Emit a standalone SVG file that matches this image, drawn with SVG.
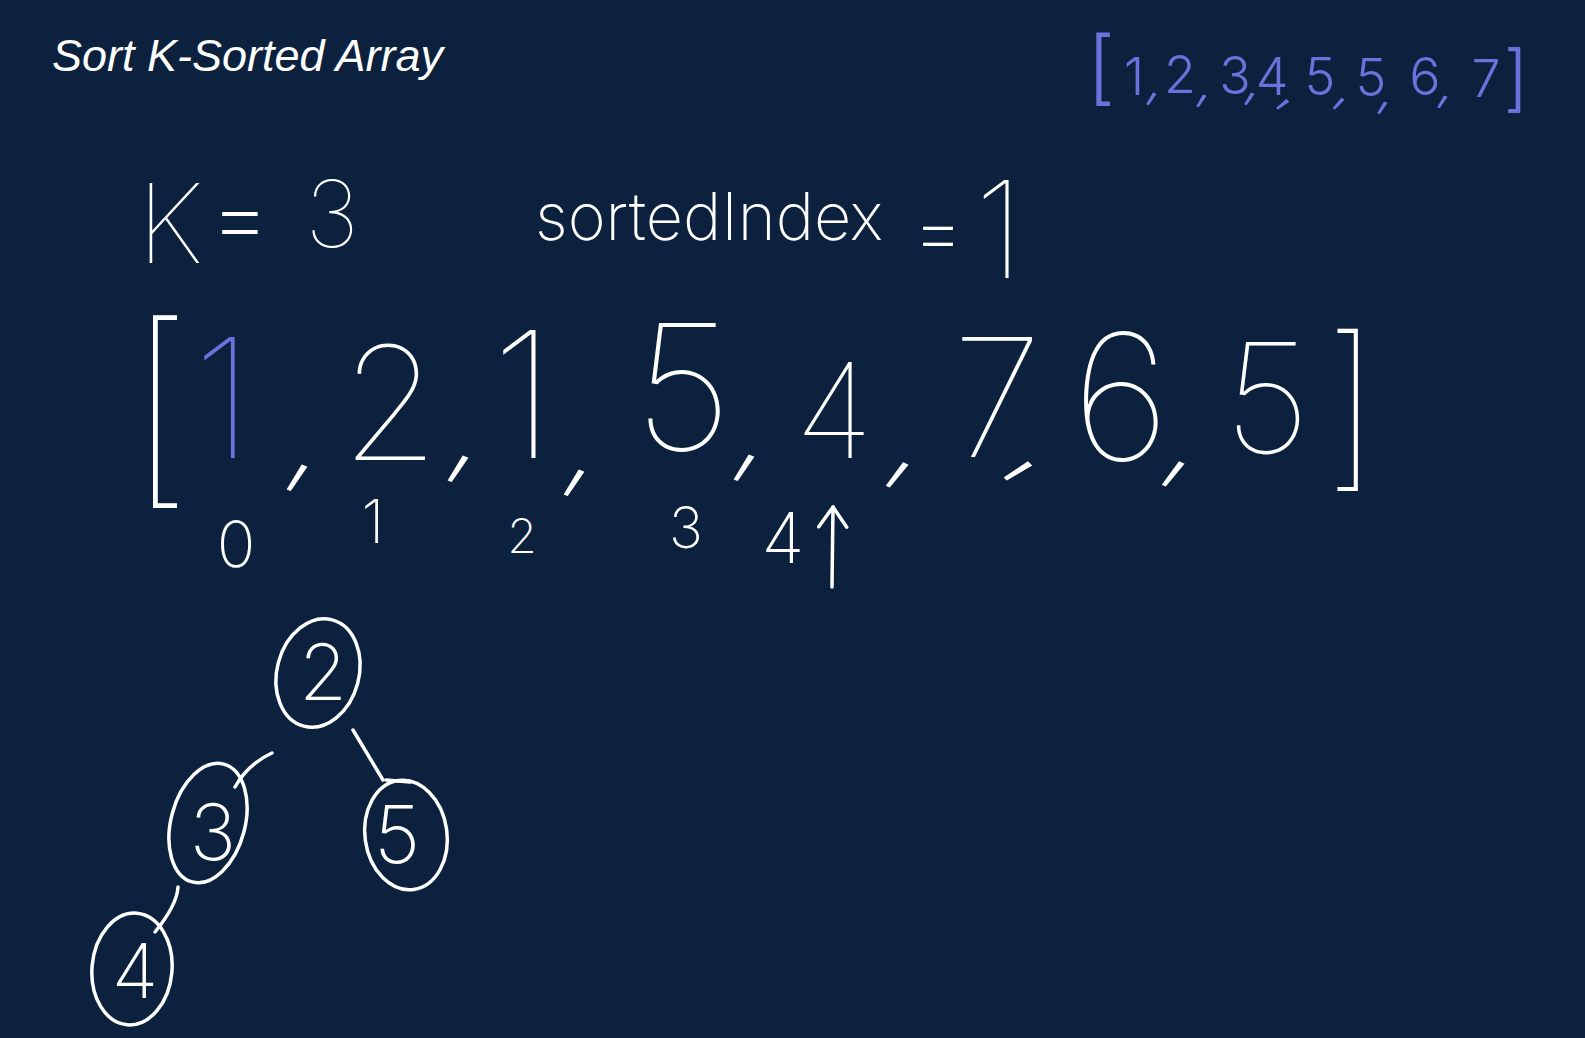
<svg xmlns="http://www.w3.org/2000/svg" width="1585" height="1038" viewBox="0 0 1585 1038">
<style>
.t{font-family:Inter,"Noto Sans",sans-serif;fill:#fff;text-anchor:middle}
.b{fill:#6b72dc;font-weight:350}
.title{font-family:"Liberation Sans",Arial,sans-serif;font-style:italic;font-size:45px;fill:#fff}
.w100{font-weight:100}.w130{font-weight:130}.w220{font-weight:220}.w250{font-weight:250}
.cm{font-size:120px;font-weight:160;letter-spacing:-0.2em}
.d{letter-spacing:-0.3em}
.ln{fill:none;stroke:#fff;stroke-width:3.5;stroke-linecap:round;stroke-linejoin:round}
</style>
<defs>
<marker id="ah" markerUnits="userSpaceOnUse" markerWidth="44" markerHeight="44" viewBox="-22 -22 44 44" refX="0" refY="0" orient="auto">
<path d="M-20,-14 L0,0 L-20,14" fill="none" stroke="#fff" stroke-width="3.5" stroke-linecap="round" stroke-linejoin="round"/>
</marker>
</defs>
<rect width="1585" height="1038" fill="#0b213e"/>
<text class="title" x="52" y="71">Sort K-Sorted Array</text>

<g id="sorted-array">
<text class="t b"><tspan x="1101" y="95" font-size="81">[</tspan><tspan font-size="52" x="1134 1153 1180 1203 1235 1251 1272 1286 1320 1341 1371 1384 1425 1444 1486" y="95 95 93 97 94 95 95 99 95 99 96 104 95 98 97" rotate="0 20 0 20 0 20 0 40 0 30 0 20 0 20 0">1,2,3,4,5,5,6,7</tspan><tspan x="1516" y="103" font-size="72">]</tspan></text>
</g>

<g id="k-value">
<text class="t"><tspan class="w130" x="170" y="263" font-size="110">K</tspan><tspan class="w220" x="240" y="250" font-size="95">=</tspan><tspan class="w130" x="332" y="247" font-size="92">3</tspan></text>
</g>

<g id="sorted-index">
<text class="t"><tspan class="w250" x="709" y="240" font-size="66" textLength="348" lengthAdjust="spacingAndGlyphs">sortedIndex</tspan><tspan class="w250" x="938" y="259" font-size="80">=</tspan><tspan class="w130" x="999" y="278" font-size="135">1</tspan></text>
</g>

<g id="array">
<text class="t w100"><tspan x="160" y="479" font-size="212">[</tspan><tspan class="d" x="198.1" y="458" font-size="166" style="fill:#6b72dc">1</tspan><tspan class="cm" x="289" y="469" rotate="20">,</tspan><tspan class="d" x="366.3" y="460" font-size="158">2</tspan><tspan class="cm" x="450" y="460" rotate="20">,</tspan><tspan class="d" x="496.6" y="458" font-size="176">1</tspan><tspan class="cm" x="566" y="474" rotate="20">,</tspan><tspan class="d" x="656.75" y="450" font-size="175">5</tspan><tspan class="cm" x="736" y="459" rotate="20">,</tspan><tspan class="d" x="814.2" y="458" font-size="132">4</tspan><tspan class="cm" x="890" y="465" rotate="25">,</tspan><tspan class="d" x="972.25" y="457" font-size="165">7</tspan><tspan class="cm" x="1015" y="458" rotate="45">,</tspan><tspan class="d" x="1094.75" y="460" font-size="175">6</tspan><tspan class="cm" x="1166" y="464" rotate="25">,</tspan><tspan class="d" x="1244.05" y="453" font-size="153">5</tspan><tspan x="1352" y="467" font-size="179">]</tspan></text>
</g>

<g id="indices">
<text class="t w250"><tspan x="236" y="567" font-size="64">0</tspan><tspan x="373" y="543" font-size="60">1</tspan><tspan x="522" y="553" font-size="48">2</tspan><tspan x="686" y="548" font-size="57">3</tspan><tspan x="783" y="563" font-size="70">4</tspan></text>
</g>

<g id="pointer">
<path class="ln" d="M832,587 L833,507" marker-end="url(#ah)"/>
</g>

<g id="connectors">
<path class="ln" d="M272,753 Q248,764 235,787"/>
<path class="ln" d="M353,730 L383,780"/>
<path class="ln" d="M386,780 L410,782"/>
<path class="ln" d="M178,887 Q177,905 155,932"/>
</g>

<g id="node-2">
<ellipse class="ln" cx="318" cy="673" rx="41" ry="55" transform="rotate(15 318 673)"/>
<text class="t w220" x="323" y="700" font-size="78">2</text>
</g>
<g id="node-3">
<ellipse class="ln" cx="208" cy="823" rx="37" ry="61" transform="rotate(15 208 823)"/>
<text class="t w220" x="213" y="860" font-size="78">3</text>
</g>
<g id="node-5">
<ellipse class="ln" cx="406" cy="835" rx="41" ry="55" transform="rotate(-8 406 835)"/>
<text class="t w220" x="397" y="863" font-size="80">5</text>
</g>
<g id="node-4">
<ellipse class="ln" cx="132" cy="969" rx="40" ry="56" transform="rotate(5 132 969)"/>
<text class="t w220" x="135" y="998" font-size="76">4</text>
</g>
</svg>
